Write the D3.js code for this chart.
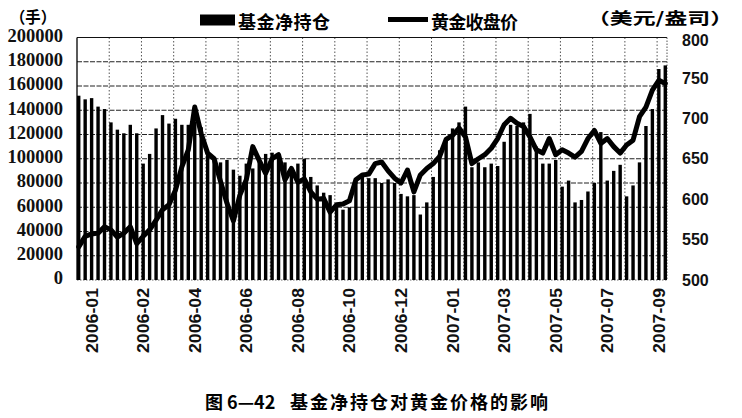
<!DOCTYPE html>
<html>
<head>
<meta charset="utf-8">
<script src="https://cdn.jsdelivr.net/npm/d3@7"></script>
<style>
  html, body { margin: 0; padding: 0; background: #fff; }
  svg { display: block; }
</style>
</head>
<body>
<svg id="chart" width="742" height="418"></svg>
<script>
// ---- data (weekly, Jan 2006 – Sep 2007) ----
const holdings = [152,149,150,143,141,130,124,121,128,121,
  96,104,125,136,129,133,128,128,131,126,
  104,100,97,99,91,86,96,92,101,104,
  105,101,97,90,96,100,85,78,72,70,
  63,58,60,83,85,84,84,80,83,80,
  71,69,70,54,64,85,107,115,125,130,
  143,93,97,93,96,94,114,128,127,130,
  137,110,96,96,99,77,82,64,66,73,
  80,122,82,90,95,69,78,97,127,141,
  174,177].map(v => v * 1000);

const goldClose = [541,554,557,558,566,562,553,558,566,545,
  554,562,574,587,593,611,640,661,714,681,
  657,650,622,595,573,605,624,665,648,632,
  650,655,624,638,621,625,609,600,601,584,
  593,594,598,624,630,631,644,646,635,626,
  620,636,609,630,638,644,653,674,679,688,
  677,644,650,655,663,675,692,700,694,690,
  677,661,657,675,655,661,657,652,659,675,
  685,669,675,665,657,667,673,702,714,735,
  747,743];

const xTickLabels = ["2006-01","2006-02","2006-04","2006-06","2006-08","2006-10",
  "2006-12","2007-01","2007-03","2007-05","2007-07","2007-09"];
const leftTicks = [0,20000,40000,60000,80000,100000,120000,140000,160000,180000,200000];
const rightTicks = [500,550,600,650,700,750,800];
const seriesNames = ["基金净持仓","黄金收盘价"];
const leftUnit = "（手）";
const rightUnit = "（美元/盎司）";
const captionNo = "图 6—42";
const captionText = "基金净持仓对黄金价格的影响";

// ---- layout ----
const svg = d3.select("#chart");
const plot = {left: 77, right: 667, top: 37.5, bottom: 280};
const idx = d3.range(holdings.length);

const x = d3.scaleBand().domain(idx).range([75.5, 668.5]);
const yL = d3.scaleLinear().domain([0, 200000]).range([plot.bottom, plot.top]);
const yR = d3.scaleLinear().domain([500, 800]).range([plot.bottom, plot.top]);
const cx = i => x(i) + x.bandwidth() / 2;

svg.append("rect").attr("width", 742).attr("height", 418).attr("fill", "#fff");

// horizontal gridlines
svg.append("g").selectAll("line").data(leftTicks.filter(t => t > 0 && t < 200000)).join("line")
  .attr("x1", plot.left).attr("x2", plot.right)
  .attr("y1", d => yL(d)).attr("y2", d => yL(d))
  .attr("stroke", "#222").attr("stroke-width", 1).attr("stroke-dasharray", "5,1.5");

// vertical gridlines every 5 categories
const vGrid = d3.range(5, holdings.length, 5);
svg.append("g").selectAll("line").data(vGrid).join("line")
  .attr("x1", d => x(d) + 1.5).attr("x2", d => x(d) + 1.5)
  .attr("y1", plot.top).attr("y2", plot.bottom)
  .attr("stroke", "#555").attr("stroke-width", 1).attr("stroke-dasharray", "1.5,2");

// frame
svg.append("line").attr("x1", plot.left).attr("x2", plot.right).attr("y1", plot.top).attr("y2", plot.top)
  .attr("stroke", "#111").attr("stroke-width", 1.2);
svg.append("line").attr("x1", plot.left).attr("x2", plot.right).attr("y1", plot.bottom).attr("y2", plot.bottom)
  .attr("stroke", "#666").attr("stroke-width", 1).attr("stroke-dasharray", "1.5,1.5");
svg.append("line").attr("x1", plot.right).attr("x2", plot.right).attr("y1", plot.top).attr("y2", plot.bottom)
  .attr("stroke", "#555").attr("stroke-width", 1).attr("stroke-dasharray", "1.5,1.5");

// bars
const barW = 3.4;
svg.append("g").selectAll("rect").data(holdings).join("rect")
  .attr("x", (d, i) => cx(i) - barW / 2)
  .attr("width", barW)
  .attr("y", d => yL(d))
  .attr("height", d => yL(0) - yL(d))
  .attr("fill", "#000");

// left axis line
svg.append("line").attr("x1", plot.left).attr("x2", plot.left).attr("y1", plot.top).attr("y2", plot.bottom)
  .attr("stroke", "#000").attr("stroke-width", 1.3);

// gold line
const line = d3.line().x((d, i) => cx(i)).y(d => yR(d)).curve(d3.curveLinear);
svg.append("path").datum(goldClose)
  .attr("d", line)
  .attr("fill", "none").attr("stroke", "#000").attr("stroke-width", 5)
  .attr("stroke-linejoin", "round").attr("stroke-linecap", "round");

// left tick labels
svg.append("g").selectAll("text").data(leftTicks).join("text")
  .attr("x", 63).attr("y", d => yL(d) - 2)
  .attr("dy", "0.35em").attr("text-anchor", "end")
  .attr("font-family", "'Liberation Serif', 'DejaVu Serif', serif")
  .attr("font-weight", "bold").attr("font-size", 18.5).attr("fill", "#111")
  .text(d => d);

// right tick labels
svg.append("g").selectAll("text").data(rightTicks).join("text")
  .attr("x", 682).attr("y", d => d === 800 ? yR(d) + 2.5 : yR(d))
  .attr("dy", "0.35em").attr("text-anchor", "start")
  .attr("font-family", "'Liberation Sans', Arial, sans-serif")
  .attr("font-weight", "bold").attr("font-size", 16).attr("fill", "#111")
  .text(d => d);

// x tick labels (rotated)
svg.append("g").selectAll("text").data(xTickLabels).join("text")
  .attr("transform", (d, k) => `translate(${cx(8 * k + 2)},288) rotate(-90)`)
  .attr("text-anchor", "end").attr("dominant-baseline", "central")
  .attr("font-family", "'Liberation Sans', Arial, sans-serif")
  .attr("font-weight", "bold").attr("font-size", 16.5).attr("fill", "#111")
  .attr("textLength", 65).attr("lengthAdjust", "spacingAndGlyphs")
  .text(d => d);

// units
const cjk = "'Noto Sans CJK SC', 'Noto Sans CJK TC', sans-serif";
svg.append("text").attr("x", 10).attr("y", 16).attr("dominant-baseline", "central")
  .attr("font-family", cjk).attr("font-weight", "bold").attr("font-size", 16)
  .attr("textLength", 46).attr("lengthAdjust", "spacingAndGlyphs").text(leftUnit);
svg.append("text").attr("x", 587).attr("y", 17).attr("dominant-baseline", "central")
  .attr("font-family", cjk).attr("font-weight", "bold").attr("font-size", 16)
  .attr("textLength", 146).attr("lengthAdjust", "spacingAndGlyphs").text(rightUnit);

// legend
svg.append("rect").attr("x", 200).attr("y", 14.5).attr("width", 35).attr("height", 11).attr("fill", "#000");
svg.append("text").attr("x", 238).attr("y", 21).attr("dominant-baseline", "central")
  .attr("font-family", cjk).attr("font-weight", "bold").attr("font-size", 18)
  .attr("textLength", 92).attr("lengthAdjust", "spacing").text(seriesNames[0]);
svg.append("line").attr("x1", 388).attr("x2", 428).attr("y1", 19.5).attr("y2", 19.5)
  .attr("stroke", "#000").attr("stroke-width", 5);
svg.append("text").attr("x", 431).attr("y", 21).attr("dominant-baseline", "central")
  .attr("font-family", cjk).attr("font-weight", "bold").attr("font-size", 18)
  .attr("textLength", 87).attr("lengthAdjust", "spacing").text(seriesNames[1]);

// caption
svg.append("text").attr("x", 205).attr("y", 401).attr("dominant-baseline", "central")
  .attr("font-family", cjk).attr("font-weight", "bold").attr("font-size", 18)
  .attr("xml:space", "preserve")
  .text(captionNo);
svg.append("text").attr("x", 290).attr("y", 401).attr("dominant-baseline", "central")
  .attr("font-family", cjk).attr("font-weight", "bold").attr("font-size", 18)
  .attr("textLength", 258).attr("lengthAdjust", "spacing").text(captionText);
</script>
</body>
</html>
